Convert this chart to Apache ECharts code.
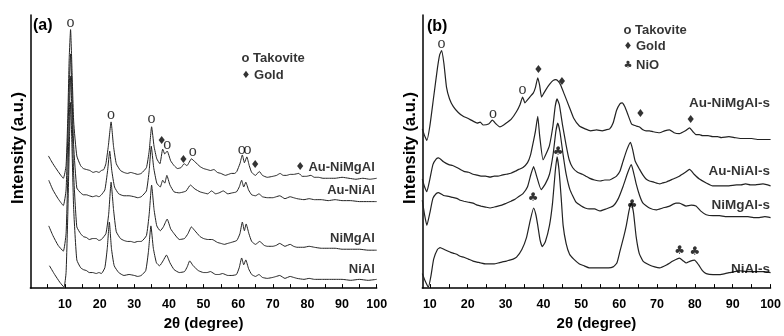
<!DOCTYPE html>
<html><head><meta charset="utf-8">
<script src="https://cdn.jsdelivr.net/npm/echarts@6/dist/echarts.min.js"></script>
<style>html,body{margin:0;padding:0;background:#fff}#c{width:784px;height:336px}</style>
</head><body><div id="c"></div>
<script>
// ---- Panel (a): as-synthesised samples, [2theta, intensity a.u.]
const aAuNiMgAl = [[5.2,136],[6.5,128],[8,120],[9.5,113],[10.3,126],[10.8,176],[11.2,236],[11.6,266],[12.0,226],[12.5,171],[13.4,136],[14.5,126],[15.3,123],[16.2,122],[17.2,121],[18.1,119],[19,120],[19.8,119],[20.5,121],[21.2,122],[21.8,128],[22.5,146],[23.3,171],[24.0,146],[24.8,128],[26,121],[27,119],[28,118],[29,119],[30,118],[31,117],[32,118],[33.5,124],[34.3,141],[35,166],[35.7,146],[36.5,133],[37.4,128],[38.2,143],[38.8,138],[39.5,141],[40.5,131],[41.5,126],[42.5,123],[43.5,124],[44.4,128],[45.2,126],[46.5,133],[47.5,130],[49,125],[50,123],[51,122],[52,121],[53,122],[54,119],[55,118],[56.3,116],[57.2,117],[58,118],[59,118],[59.6,120],[60.5,128],[61.2,137],[61.8,129],[62.5,135],[63.2,126],[63.9,119],[65,116],[66.1,120],[67,116],[68.4,114],[70,115],[71.1,116],[72.1,118],[73,116],[74,116],[75,117],[76,117],[77.5,118],[78.5,115],[79.7,115],[81,116],[82,114],[83.2,114],[84.5,113],[86,113],[88,113],[90,114],[92,113],[94,112],[96,113],[98,112],[100,113]];
const aAuNiAl = [[5.3,111],[6.5,101],[8,92],[9.5,85],[10.3,101],[10.8,156],[11.3,216],[11.6,241],[12.0,201],[12.5,146],[13.4,103],[14.5,98],[15.3,96],[16.2,96],[17,95],[18,94],[19,95],[19.8,94],[20.5,96],[21.5,101],[22.3,121],[22.9,141],[23.5,121],[24.3,104],[25.5,97],[27,95],[28.5,95],[30,94],[31,93],[32,94],[33.5,100],[34.3,121],[34.9,146],[35.6,124],[36.5,108],[37.5,104],[38.2,111],[38.8,108],[39.4,116],[40.3,106],[41.5,99],[43,98],[44.3,99],[45,100],[46.2,106],[47.5,102],[49,99],[50,98],[51.2,97],[52.3,100],[53.5,97],[54.5,98],[55.7,100],[57,97],[58.3,98],[59.5,99],[60.3,104],[61,111],[61.6,104],[62.2,109],[63,101],[63.9,96],[65,95],[66,97],[67,94],[68.4,93],[70,93],[71,94],[72,95],[73.5,92],[75,94],[76,93],[77,92],[79,91],[80.5,92],[82,91],[84,91],[86,90],[88,91],[90,90],[92.5,90],[95,89],[97.5,89],[100,89]];
const aNiMgAl = [[5.3,64],[6.5,54],[8,44],[9.5,38],[10.3,56],[10.8,116],[11.3,186],[11.6,218],[12.0,181],[12.5,116],[13.4,63],[14.5,56],[15.3,53],[16.2,52],[17,50],[18,51],[19,51],[19.8,49],[20.5,50],[21.8,56],[22.6,76],[23.3,109],[24.0,81],[24.8,58],[26,51],[27,49],[28,48],[29,48],[30,47],[31,48],[32,48],[33.5,54],[34.3,76],[35,106],[35.7,81],[36.5,64],[37.5,59],[38.4,63],[39.5,71],[40.5,61],[41.5,56],[43,50],[44.5,51],[45.5,56],[46.5,63],[47.5,59],[49,53],[50,51],[51.2,50],[52.5,50],[54,47],[55,46],[56,45],[57,46],[58,47],[59.6,49],[60.5,56],[61.2,68],[61.8,59],[62.3,66],[63.1,56],[63.9,48],[65,45],[66.2,48],[67.5,44],[68.4,43],[70,43],[71,44],[72,46],[73.5,43],[75,45],[76,43],[77,42],[79,42],[80.5,43],[82,42],[84,41],[86,41],[88,41],[90,40],[92.5,40],[95,40],[97.5,39],[100,39]];
const aNiAl = [[5.5,23],[7,14],[8.5,6],[9.7,1],[10.3,16],[10.8,76],[11.3,156],[11.6,191],[12.0,146],[12.5,81],[13.4,29],[14.5,21],[15.3,19],[16.2,18],[17,16],[18,16],[19,15],[19.8,16],[20.5,15],[21.5,21],[22.2,41],[22.8,68],[23.4,41],[24.2,23],[25.5,16],[27,13],[28.5,14],[30,13],[31,12],[32,13],[33.3,18],[34.1,38],[34.8,64],[35.5,41],[36.4,26],[37.3,23],[38.3,28],[39.3,34],[40.3,26],[41.5,19],[43,16],[44.5,17],[45.3,22],[46,28],[47,23],[48.5,18],[50,16],[51,16],[52,17],[53.5,14],[54.5,14],[55.5,15],[57,13],[58.2,13],[59.5,14],[60.3,21],[61,31],[61.6,24],[62.2,29],[63,20],[63.9,14],[65,12],[66,14],[67,11],[68.4,10],[70,11],[71,12],[72,13],[73.5,10],[75,12],[76,11],[77,10],[79,9],[80.5,10],[82,9],[84,9],[86,9],[88,9],[90,9],[92.5,8],[95,9],[97.5,8],[100,9]];

// ---- Panel (b): spent samples
const bAuNiMgAl = [[8,165],[8.6,158],[9.2,153],[10,168],[11,198],[12,228],[12.6,242],[13.1,246],[13.7,233],[14.4,208],[15.2,196],[16.2,188],[17.5,182],[18.8,178],[20,176],[21.4,173],[22.5,171],[23.3,172],[24.1,169],[25.5,170],[26.5,174],[27.5,170],[28.5,167],[29.5,169],[30.2,171],[31.5,175],[32.9,183],[33.8,190],[34.5,198],[35.1,192],[35.8,195],[36.4,198],[37.3,202],[37.9,208],[38.5,218],[39,210],[39.5,198],[40.1,202],[40.7,206],[41.6,211],[42.5,215],[43.3,216],[44,214],[44.6,210],[45.5,201],[46.8,188],[48,176],[49.5,168],[51,165],[52.5,163],[54,164],[55.5,163],[56.5,164],[57.5,165],[58.4,171],[59.3,184],[60.2,191],[60.8,192],[61.5,188],[62.2,181],[63.3,170],[64.5,168],[65.4,167],[66.3,164],[67.1,163],[68,163],[69,162],[70.7,161],[72,163],[73.3,164],[74.5,161],[75.9,160],[77.5,163],[78.6,166],[79.5,162],[80.3,159],[81.2,159],[82,158],[83.5,158],[84.7,157],[86,157],[87,156],[89,157],[90.5,156],[92,155],[93.5,155],[95,155],[96.5,154],[98,154],[100,154]];
const bAuNiAl = [[8,113],[8.6,105],[9.2,100],[10,113],[10.8,128],[11.7,134],[12.3,135],[13.6,131],[15,128],[16,127],[17.1,125],[18,123],[19,121],[20.2,120],[21.4,118],[22.5,117],[23.5,116],[24.7,116],[25.9,115],[27,116],[28,116],[29,117],[30.2,118],[31.4,119],[32.5,121],[33.5,123],[34.6,125],[35.8,130],[36.6,138],[37.3,151],[37.9,163],[38.5,178],[39,158],[39.9,133],[40.8,140],[41.6,148],[42.5,168],[43.1,188],[43.6,196],[44.2,190],[45,170],[46,148],[46.8,133],[47.7,125],[49,120],[50.3,118],[51.2,116],[52.1,114],[53.5,112],[55,111],[56.2,112],[57.5,112],[58.5,114],[59.3,116],[60.2,121],[61,131],[62,143],[63,151],[63.6,143],[64.2,132],[65.4,123],[66.3,117],[67.1,113],[68,111],[69,110],[70.7,108],[71.5,109],[72.5,110],[74.2,113],[75.9,116],[77.5,120],[78.6,123],[79.8,118],[81.2,113],[83,109],[84.7,106],[86,106],[87,106],[89,106],[91,107],[92.2,107],[93.4,108],[94.7,107],[96,107],[98,108],[100,106]];
const bNiMgAl = [[8,91],[8.6,76],[9.2,65],[10,78],[10.8,93],[11.7,98],[12.3,99],[13.6,96],[15,95],[16,94],[17.1,93],[18,91],[19,90],[20.2,89],[21.4,88],[22.5,86],[23.5,85],[24.7,84],[25.9,83],[27,84],[28,85],[29,86],[30.2,88],[31.4,90],[32.5,92],[33.5,95],[34.6,98],[35.8,105],[36.7,118],[37.4,126],[38.2,116],[39.4,102],[40.5,108],[41.6,118],[42.6,140],[43.3,163],[43.8,171],[44.4,161],[45.2,138],[46,118],[47,102],[48.6,89],[50,85],[51,83],[52.1,82],[53.5,82],[54.9,80],[56.5,82],[58.4,85],[59.8,93],[61,105],[62.3,120],[63.2,128],[63.8,120],[64.5,108],[65.4,96],[66.3,88],[68,83],[69.8,81],[71.5,83],[73.3,85],[75,88],[75.9,88],[77.7,85],[79,86],[80.3,85],[81.5,80],[83,76],[84.8,75],[86.5,75],[88,74],[90,74],[92,74],[94,74],[95.5,73],[97,73],[98.5,74],[100,73]];
const bNiAl = [[8,15],[8.7,8],[9.6,1],[10.3,13],[11,30],[12,40],[12.7,42],[13.8,40],[15.5,37],[16.3,36],[17.1,35],[18,33],[19,32],[20.2,30],[21.4,28],[22.5,27],[23.5,26],[24.7,25],[25.9,25],[27,25],[28,26],[29,27],[30.2,28],[31,29],[32,30],[32.9,32],[34.3,40],[35.5,52],[36.5,70],[37.4,83],[38,76],[38.5,65],[39.1,50],[39.7,43],[40.5,48],[41.6,65],[42.4,88],[43.1,120],[43.6,136],[44.1,123],[44.7,93],[45.2,65],[46,46],[46.9,35],[48,30],[49.5,25],[50.8,23],[52.1,21],[54,21],[56,21],[57.2,21],[58.4,22],[59.4,26],[60.2,38],[61.2,53],[61.9,65],[62.6,80],[63.2,88],[63.8,78],[64.5,53],[65.3,36],[66.3,28],[68,24],[69.4,22],[70.7,21],[72.5,24],[74.2,28],[75.9,31],[77,28],[77.7,26],[78.8,28],[79.9,29],[81,24],[82,18],[83,15],[84.8,14],[86.5,14],[88,15],[89,16],[90.5,17],[91.8,18],[93.5,17],[95,17],[96.5,17],[98,17],[100,16]];

// ---- axis ticks / labels
const ticksA = [5,10,15,20,25,30,35,40,45,50,55,60,65,70,75,80,85,90,95,100];
const ticksB = [10,15,20,25,30,35,40,45,50,55,60,65,70,75,80,85,90,95,100];
const tickLabels = [10,20,30,40,50,60,70,80,90,100];

// ---- phase markers [2theta, intensity]
const takA = [[11.6,273],[23.3,178],[35,174],[39.5,147],[46.9,140],[61.0,142],[62.7,142]];
const goldA = [[37.9,151],[44.2,132],[64.9,127],[77.9,124]];
const takB = [[13.1,253],[26.7,181],[34.5,205]];
const goldB = [[38.7,226],[44.9,213],[65.6,180],[78.9,174]];
const nioB = [[43.9,141],[37.3,93],[63.4,86],[76.0,39],[80.0,38]];

// ---- sample names [2theta (right edge), intensity, name]
const namesA = [[99.6,124,'Au-NiMgAl'],[99.6,101,'Au-NiAl'],[99.6,51,'NiMgAl'],[99.6,19,'NiAl']];
const namesB = [[100,192,'Au-NiMgAl-s'],[100,121,'Au-NiAl-s'],[100,86,'NiMgAl-s'],[100,20,'NiAl-s']];
// ---- legends [2theta (left edge), intensity, text]
const legA = [[60.8,236,'o Takovite'],[60.8,219,'{d|♦} Gold']];
const legB = [[61.0,267,'o Takovite'],[61.0,250,'{d|♦} Gold'],[61.0,231,'{d|♣} NiO']];

const SANS = 'Liberation Sans, Arial, sans-serif';
const chart = echarts.init(document.getElementById('c'), null, {renderer:'canvas'});

function xAx(grid, min, ticks){
  return {gridIndex:grid, type:'value', min:min, max:100,
    axisLine:{onZero:false, lineStyle:{color:'#000', width:1.5}},
    axisTick:{show:true, inside:true, length:4, customValues:ticks, lineStyle:{color:'#000', width:1}},
    axisLabel:{customValues:tickLabels, color:'#000', fontWeight:'bold', fontSize:12.5, fontFamily:SANS, margin:10},
    splitLine:{show:false},
    name:'2θ (degree)', nameLocation:'middle', nameGap:23,
    nameTextStyle:{color:'#000', fontWeight:'bold', fontSize:15, fontFamily:SANS}};
}
function yAx(grid, max){
  return {gridIndex:grid, type:'value', min:0, max:max,
    axisLine:{show:true, onZero:false, lineStyle:{color:'#000', width:1.5}},
    axisTick:{show:false}, axisLabel:{show:false}, splitLine:{show:false}};
}
function curve(data, xi, w){
  return {type:'line', xAxisIndex:xi, yAxisIndex:xi, data:data, showSymbol:false, symbol:'none',
    smooth:0.15, lineStyle:{color:'#222', width:w}, z:2, silent:true};
}
function marks(data, xi, text, font, size){
  return {type:'scatter', xAxisIndex:xi, yAxisIndex:xi, data:data, symbolSize:1,
    itemStyle:{color:'rgba(0,0,0,0)'}, z:5, silent:true,
    label:{show:true, position:'inside', formatter:text, color:'#000', fontFamily:font, fontSize:size}};
}
function names(data, xi, size){
  return {type:'scatter', xAxisIndex:xi, yAxisIndex:xi, data:data, symbolSize:1,
    itemStyle:{color:'rgba(0,0,0,0)'}, z:5, silent:true,
    label:{show:true, position:'left', distance:0, formatter:p=>p.value[2], color:'#000',
      fontWeight:'bold', fontFamily:SANS, fontSize:size}};
}
function legend(data, xi){
  return {type:'scatter', xAxisIndex:xi, yAxisIndex:xi, data:data, symbolSize:1,
    itemStyle:{color:'rgba(0,0,0,0)'}, z:5, silent:true,
    label:{show:true, position:'right', distance:0, formatter:p=>p.value[2], color:'#000',
      fontWeight:'bold', fontFamily:SANS, fontSize:13,
      rich:{d:{fontFamily:'DejaVu Sans', fontSize:10, color:'#000'}}}};
}

chart.setOption({
  animation:false,
  backgroundColor:'#fff',
  grid:[{left:30.4, right:407.3, top:15, bottom:40.3},{left:422.3, right:13, top:15, bottom:38.3}],
  xAxis:[xAx(0,0,ticksA), xAx(1,8,ticksB)],
  yAxis:[yAx(0,281), yAx(1,283)],
  graphic:[
    {type:'text', left:33, top:18, style:{text:'(a)', font:'bold 16px '+SANS, fill:'#000'}},
    {type:'text', left:427, top:19, style:{text:'(b)', font:'bold 16px '+SANS, fill:'#000'}},
    {type:'text', x:18.5, y:148, rotation:Math.PI/2, style:{text:'Intensity (a.u.)', font:'bold 16.5px '+SANS, fill:'#000', align:'center', verticalAlign:'middle'}},
    {type:'text', x:410, y:148, rotation:Math.PI/2, style:{text:'Intensity (a.u.)', font:'bold 16.5px '+SANS, fill:'#000', align:'center', verticalAlign:'middle'}}
  ],
  series:[
    curve(aAuNiMgAl,0,1), curve(aAuNiAl,0,1), curve(aNiMgAl,0,1), curve(aNiAl,0,1),
    curve(bAuNiMgAl,1,1.2), curve(bAuNiAl,1,1.2), curve(bNiMgAl,1,1.2), curve(bNiAl,1,1.2),
    marks(takA,0,'o','Liberation Serif',16), marks(goldA,0,'♦','DejaVu Sans',11),
    marks(takB,1,'o','Liberation Serif',16), marks(goldB,1,'♦','DejaVu Sans',11), marks(nioB,1,'♣','DejaVu Sans',12),
    names(namesA,0,13), names(namesB,1,13.5),
    legend(legA,0), legend(legB,1)
  ]
});
</script></body></html>
